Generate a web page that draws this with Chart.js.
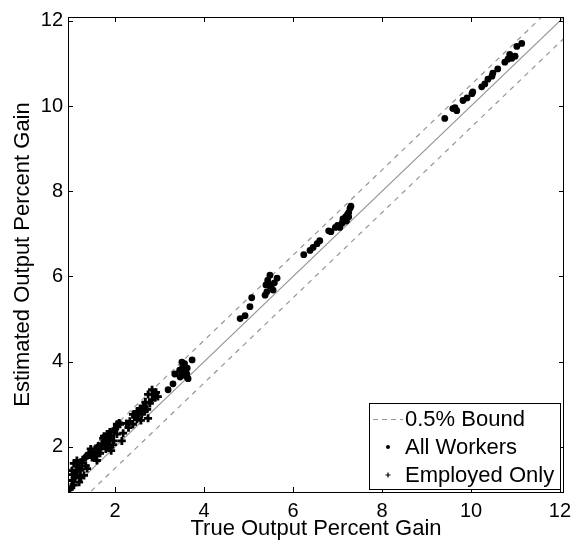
<!DOCTYPE html>
<html>
<head>
<meta charset="utf-8">
<script src="https://cdn.jsdelivr.net/npm/chart.js@4/dist/chart.umd.min.js"></script>
<style>
  html, body { margin: 0; padding: 0; background: #fff; }
  #wrap { width: 580px; height: 542px; }
</style>
</head>
<body>
<div id="wrap"><canvas id="scatter" width="580" height="542"></canvas></div>
<script>
// axis range and tick labels
const axisMin = 0.94;
const axisMax = 12.09;
const tickValues = [2, 4, 6, 8, 10, 12];

// reference lines (y = x and the 0.5 point bounds)
const refX = [0, 13];
const refY = [0, 13];
const upperY = [0.5, 13.5];
const lowerY = [-0.5, 12.5];

// All Workers (dots)
const allX = [3.19, 3.30, 3.34, 3.46, 3.50, 3.52, 3.61, 3.64, 3.73, 3.55, 3.58, 3.60, 3.50, 3.56, 3.62, 3.45,
  4.81, 4.92, 5.03, 5.07, 5.37, 5.43, 5.48, 5.64, 5.55, 5.48, 5.39, 5.51, 5.58, 5.41,
  6.24, 6.38, 6.45, 6.54, 6.60, 6.80,
  6.85, 6.95, 7.00, 7.05, 7.10, 7.12, 7.15, 7.18, 7.20, 7.22, 7.25, 7.25, 7.28, 7.30,
  9.41, 9.59, 9.64, 9.68, 9.82, 9.91, 10.02, 10.04, 10.24, 10.31, 10.38, 10.47, 10.49, 10.60,
  10.76, 10.83, 10.92, 10.99, 11.03, 11.14, 10.87];
const allY = [3.34, 3.48, 3.71, 3.64, 3.99, 3.88, 3.71, 3.60, 4.04, 3.75, 3.80, 3.65, 3.70, 3.95, 3.85, 3.80,
  5.01, 5.08, 5.29, 5.50, 5.56, 5.91, 6.03, 5.96, 5.68, 5.77, 5.80, 5.80, 5.85, 5.64,
  6.51, 6.61, 6.68, 6.77, 6.84, 7.07,
  7.05, 7.15, 7.20, 7.15, 7.25, 7.35, 7.30, 7.40, 7.30, 7.45, 7.50, 7.40, 7.60, 7.65,
  9.71, 9.94, 9.96, 9.89, 10.13, 10.19, 10.29, 10.33, 10.45, 10.52, 10.63, 10.70, 10.77, 10.87,
  11.03, 11.10, 11.12, 11.17, 11.40, 11.47, 11.21];

// Employed Only (plus signs)
const empX = [1.01, 1.07, 1.03, 1.12, 1.14, 1.19, 1.07, 1.14, 1.25, 1.34, 1.37, 1.23, 1.19, 1.30, 1.41, 1.46,
  1.57, 1.59, 1.68, 1.70, 1.79, 1.82, 1.91, 1.97, 2.04, 2.09, 1.79, 1.91, 1.59, 1.82, 1.97, 2.04,
  1.03, 1.37, 1.48, 0.98,
  2.15, 2.18, 2.33, 2.40, 2.49, 2.56, 2.63, 2.72, 2.74, 2.78, 2.83, 2.85, 2.96, 2.74, 2.83, 2.40,
  2.49, 2.60, 2.11, 2.04,
  1.10, 1.16, 1.22, 1.28, 1.33, 1.45, 1.52, 1.62, 1.66, 1.73, 1.75, 1.86, 1.88, 1.95, 2.00, 1.85,
  2.25, 2.30, 2.45, 2.53, 2.58, 2.66, 2.68, 2.90, 2.92, 1.60, 1.75, 1.10, 1.05];
const empY = [1.05, 1.10, 1.21, 1.33, 1.44, 1.51, 1.61, 1.68, 1.63, 1.56, 1.49, 1.28, 1.17, 1.33, 1.84, 1.86,
  1.79, 1.91, 1.98, 2.07, 2.14, 2.30, 2.25, 2.37, 2.49, 2.56, 1.95, 1.91, 1.68, 2.09, 2.14, 2.30,
  1.44, 1.79, 1.75, 1.00,
  2.14, 2.32, 2.60, 2.76, 2.83, 2.90, 2.95, 2.88, 2.67, 3.02, 3.11, 3.23, 3.18, 3.23, 3.34, 2.53,
  2.65, 2.76, 2.53, 2.53,
  1.40, 1.55, 1.45, 1.70, 1.75, 1.95, 1.88, 2.02, 1.85, 2.20, 2.05, 2.18, 2.35, 2.05, 2.42, 2.00,
  2.55, 2.45, 2.70, 2.78, 2.62, 2.85, 3.05, 3.15, 3.28, 1.98, 2.25, 1.28, 1.35];

const toPoints = (xs, ys) => xs.map((x, i) => ({ x: x, y: ys[i] }));

const lineGray = '#959595';
const fontFamily = '"Liberation Sans", Arial, sans-serif';

// frame with inward ticks on all four sides, plus the legend box inside the plot
const framePlugin = {
  id: 'frame',
  afterDatasetsDraw(chart) {
    const { ctx, chartArea: a, scales } = chart;
    ctx.save();
    ctx.strokeStyle = '#000';
    ctx.lineWidth = 1;
    ctx.beginPath();
    tickValues.forEach(v => {
      const px = Math.round(scales.x.getPixelForValue(v)) + 0.5;
      const py = Math.round(scales.y.getPixelForValue(v)) + 0.5;
      ctx.moveTo(px, a.bottom); ctx.lineTo(px, a.bottom - 5);
      ctx.moveTo(px, a.top); ctx.lineTo(px, a.top + 5);
      ctx.moveTo(a.left, py); ctx.lineTo(a.left + 5, py);
      ctx.moveTo(a.right, py); ctx.lineTo(a.right - 5, py);
    });
    ctx.stroke();
    ctx.strokeRect(a.left + 0.5, a.top + 0.5, a.right - a.left - 1, a.bottom - a.top);

    // legend
    const box = { x: 369.5, y: 403.5, w: 191, h: 86 };
    ctx.fillStyle = '#fff';
    ctx.fillRect(box.x, box.y, box.w, box.h);
    ctx.strokeRect(box.x, box.y, box.w, box.h);
    const rows = [419, 447, 475];
    const textX = 405;
    ctx.font = '22px ' + fontFamily;
    ctx.fillStyle = '#000';
    ctx.textBaseline = 'middle';
    ctx.textAlign = 'left';
    const labels = ['0.5% Bound', chart.data.datasets[0].label, chart.data.datasets[1].label];
    // dashed sample
    ctx.strokeStyle = lineGray;
    ctx.setLineDash([5, 4]);
    ctx.beginPath();
    ctx.moveTo(373, rows[0] + 0.5); ctx.lineTo(403, rows[0] + 0.5);
    ctx.stroke();
    ctx.setLineDash([]);
    // dot sample
    ctx.fillStyle = '#000';
    ctx.beginPath();
    ctx.arc(388, rows[1], 2, 0, Math.PI * 2);
    ctx.fill();
    // plus sample
    ctx.strokeStyle = '#000';
    ctx.lineWidth = 1.2;
    ctx.beginPath();
    ctx.moveTo(385.5, rows[2]); ctx.lineTo(390.5, rows[2]);
    ctx.moveTo(388, rows[2] - 2.5); ctx.lineTo(388, rows[2] + 2.5);
    ctx.stroke();
    labels.forEach((t, i) => ctx.fillText(t, textX, rows[i] + 1));
    ctx.restore();
  }
};

const chart = new Chart(document.getElementById('scatter'), {
  type: 'scatter',
  data: {
    datasets: [
      {
        label: 'All Workers',
        data: toPoints(allX, allY),
        pointStyle: 'circle',
        pointRadius: 3.4,
        backgroundColor: '#000',
        borderColor: '#000',
        borderWidth: 0,
        order: 1
      },
      {
        label: 'Employed Only',
        data: toPoints(empX, empY),
        pointStyle: 'cross',
        pointRadius: 4,
        borderColor: '#000',
        borderWidth: 2.8,
        order: 1
      },
      {
        label: 'y = x',
        type: 'line',
        data: toPoints(refX, refY),
        borderColor: lineGray,
        borderWidth: 1.2,
        pointRadius: 0,
        order: 2
      },
      {
        label: '0.5% Bound',
        type: 'line',
        data: toPoints(refX, upperY),
        borderColor: lineGray,
        borderWidth: 1.2,
        borderDash: [5, 5],
        pointRadius: 0,
        order: 2
      },
      {
        label: '0.5% Bound (lower)',
        type: 'line',
        data: toPoints(refX, lowerY),
        borderColor: lineGray,
        borderWidth: 1.2,
        borderDash: [5, 5],
        pointRadius: 0,
        order: 2
      }
    ]
  },
  options: {
    responsive: false,
    animation: false,
    layout: { padding: { top: 13, right: 16, left: 0, bottom: 0 } },
    plugins: {
      legend: { display: false },
      tooltip: { enabled: false }
    },
    scales: {
      x: {
        type: 'linear',
        min: axisMin,
        max: axisMax,
        afterBuildTicks: s => { s.ticks = tickValues.map(v => ({ value: v })); },
        afterFit: s => { s.height = 50; },
        grid: { display: false, drawTicks: false },
        border: { display: false },
        ticks: {
          color: '#000',
          padding: 7,
          maxRotation: 0,
          font: { family: fontFamily, size: 20 }
        },
        title: {
          display: true,
          text: 'True Output Percent Gain',
          color: '#000',
          padding: 0,
          font: { family: fontFamily, size: 22 }
        }
      },
      y: {
        type: 'linear',
        min: axisMin,
        max: axisMax,
        afterBuildTicks: s => { s.ticks = tickValues.map(v => ({ value: v })); },
        afterFit: s => { s.width = 68; },
        grid: { display: false, drawTicks: false },
        border: { display: false },
        ticks: {
          color: '#000',
          padding: 5,
          font: { family: fontFamily, size: 20 }
        },
        title: {
          display: true,
          text: 'Estimated Output Percent Gain',
          color: '#000',
          padding: { top: 10, bottom: 0 },
          font: { family: fontFamily, size: 22 }
        }
      }
    }
  },
  plugins: [framePlugin]
});
</script>
</body>
</html>
